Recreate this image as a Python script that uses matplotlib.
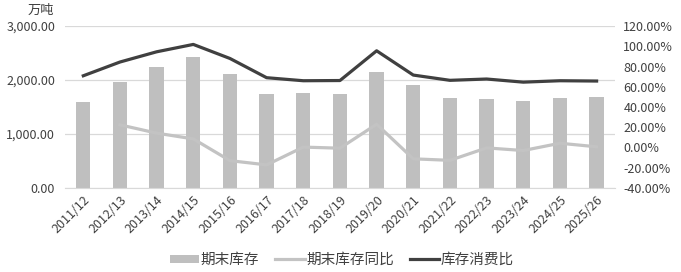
import matplotlib
matplotlib.use("Agg")
import matplotlib.pyplot as plt
from matplotlib.ticker import FuncFormatter
import numpy as np

plt.rcParams["font.family"] = ["Noto Sans CJK SC", "DejaVu Sans"]

seasons = ["2011/12", "2012/13", "2013/14", "2014/15", "2015/16", "2016/17",
           "2017/18", "2018/19", "2019/20", "2020/21", "2021/22", "2022/23",
           "2023/24", "2024/25", "2025/26"]
stock = [1598, 1957, 2235, 2426, 2111, 1747, 1753, 1741, 2142, 1901,
         1660, 1654, 1605, 1673, 1685]
stock_yoy = [np.nan, 22.4, 14.2, 8.5, -13.0, -17.2, 0.4, -0.7, 23.0, -11.2,
             -12.7, -0.4, -3.0, 4.2, 0.7]
stock_use = [70.9, 84.5, 94.6, 101.9, 88.0, 69.0, 66.0, 66.2, 95.6, 71.6,
             66.4, 67.7, 64.6, 66.0, 65.7]

bar_color = "#bfbfbf"
yoy_color = "#c3c3c3"
use_color = "#404040"
text_color = "#404040"

fig = plt.figure(figsize=(6.81, 2.72), dpi=100)
ax = fig.add_axes([0.0954, 0.309, 0.8076, 0.595])
ax2 = ax.twinx()

x = np.arange(len(seasons))
ax.bar(x, stock, width=0.39, color=bar_color, label="期末库存", zorder=2)
ax.set_ylim(0, 3000)
ax.set_yticks([0, 1000, 2000, 3000])
ax.yaxis.set_major_formatter(FuncFormatter(lambda v, _: f"{v:,.2f}"))
ax.grid(axis="y", color="#d9d9d9", lw=0.9, zorder=0)
ax.set_xlim(-0.5, len(seasons) - 0.5)
ax.set_xticks(x)
ax.set_xticklabels(seasons, rotation=45, ha="right", rotation_mode="anchor")

ax2.plot(x, stock_yoy, color=yoy_color, lw=2.3, label="期末库存同比")
ax2.plot(x, stock_use, color=use_color, lw=2.3, label="库存消费比")
ax2.set_ylim(-40, 120)
ax2.set_yticks(np.arange(-40, 121, 20))
ax2.yaxis.set_major_formatter(FuncFormatter(lambda v, _: f"{v:.2f}%"))

for a in (ax, ax2):
    for s in a.spines.values():
        s.set_visible(False)
    a.tick_params(length=0, labelsize=9, colors=text_color)
ax.spines["bottom"].set_visible(True)
ax.spines["bottom"].set_color("#d9d9d9")
ax.tick_params(axis="y", pad=7)
ax.tick_params(axis="x", pad=4)
ax2.tick_params(axis="y", pad=6)

fig.text(0.04, 0.963, "万吨", fontsize=9.5, color=text_color, ha="left", va="center")

h1, l1 = ax.get_legend_handles_labels()
h2, l2 = ax2.get_legend_handles_labels()
fig.legend(h1 + h2, l1 + l2, loc="center", bbox_to_anchor=(0.502, 0.044),
           ncol=3, frameon=False, fontsize=10.5, labelcolor=text_color,
           handlelength=2.0, handleheight=0.45, handletextpad=0.1,
           columnspacing=1.1)

fig.savefig("out.png", dpi=100)
